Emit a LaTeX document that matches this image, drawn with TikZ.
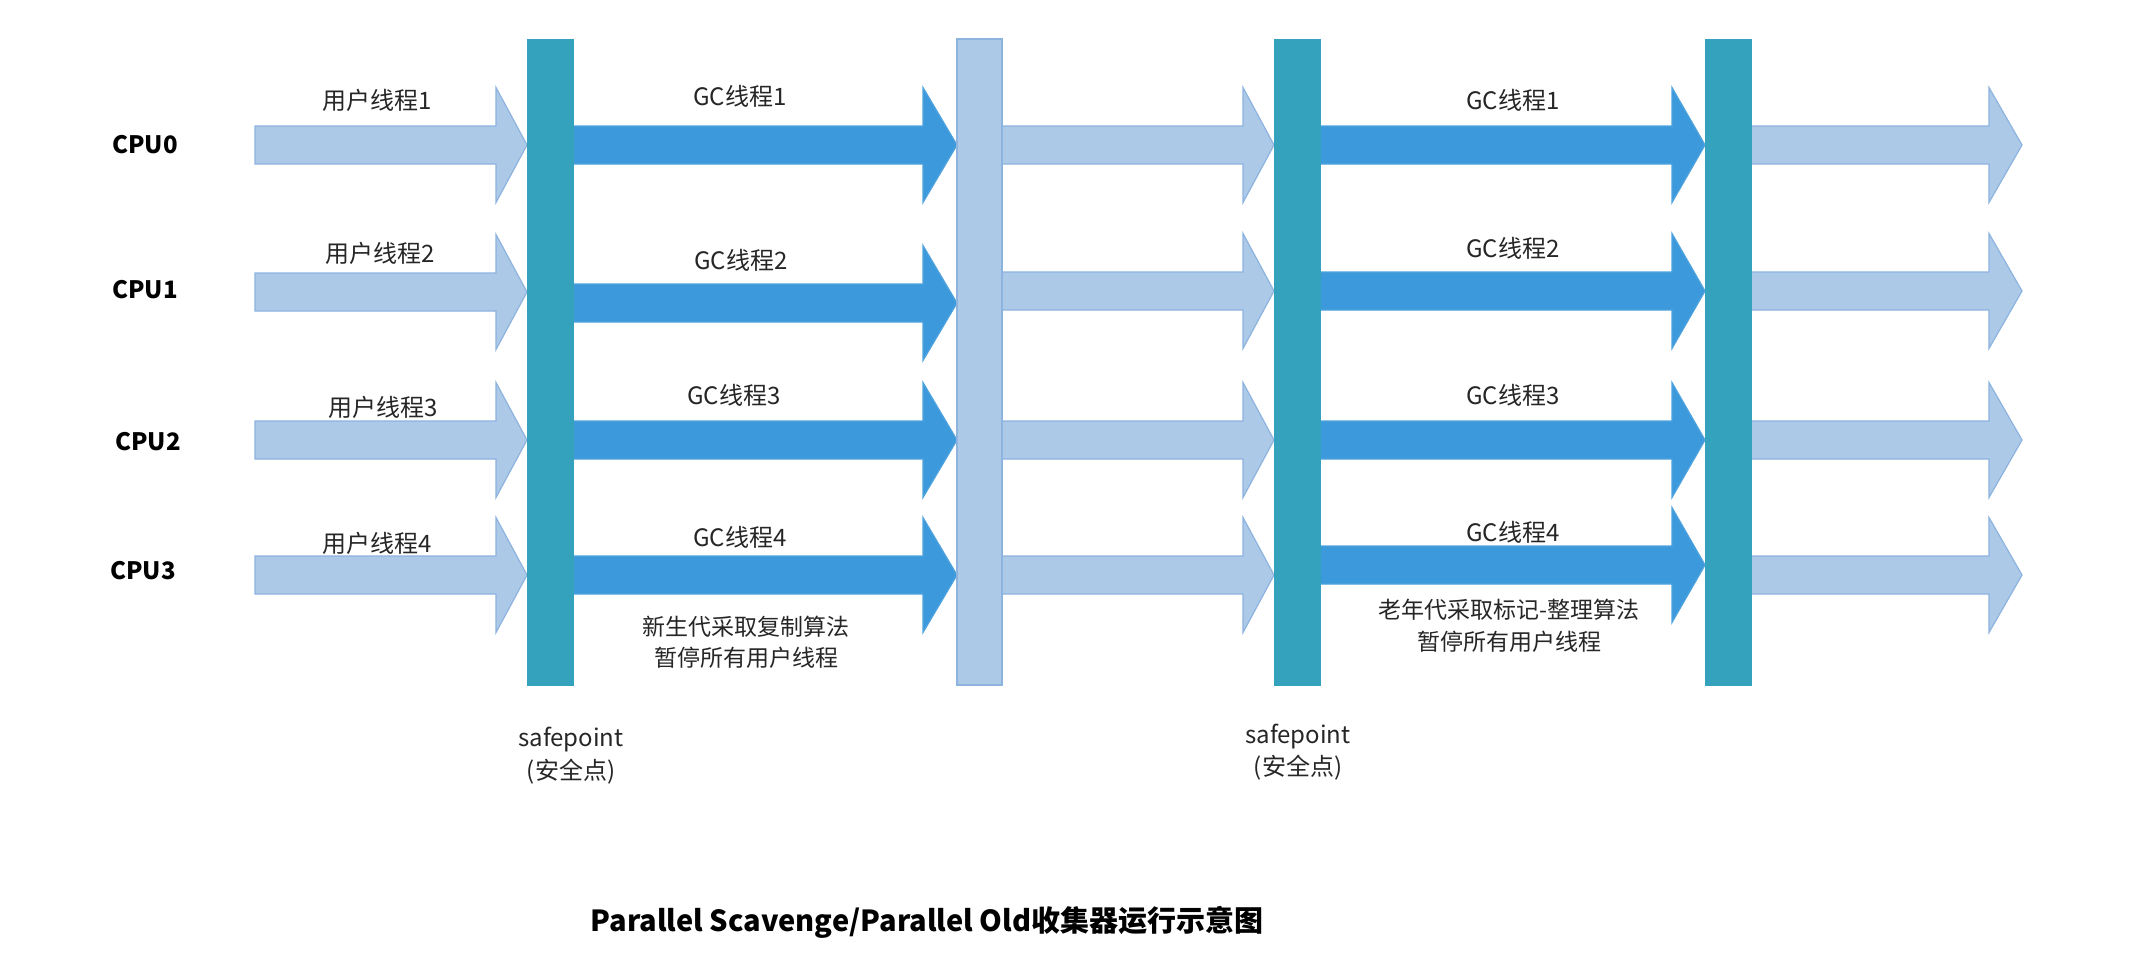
\documentclass[tikz,border=0pt]{standalone}
\usepackage{fontspec}
\setmainfont{Noto Sans CJK SC}
\begin{document}
\begin{tikzpicture}[x=0.5pt,y=-0.5pt,
  lightarrow/.style={fill=lightfill,draw=lightedge,line width=0.6pt,line join=miter},
  gcarrow/.style={fill=gcblue,draw=gcedge,line width=0.6pt,line join=miter},
  tealbar/.style={fill=teal2,draw=teal2,line width=0.4pt},
  lightbar/.style={fill=lightfill,draw=lightedge,line width=0.6pt},
  lbl/.style={font=\fontsize{12}{14}\selectfont,inner sep=0pt,text=black!85},
  note/.style={font=\fontsize{11.5}{13}\selectfont,inner sep=0pt,text=black!85},
  cpu/.style={font=\fontsize{12}{14}\selectfont\bfseries,inner sep=0pt},
  title/.style={font=\fontsize{14.5}{17}\selectfont\bfseries,inner sep=0pt}]
\definecolor{lightfill}{HTML}{ADC9E8}
\definecolor{lightedge}{HTML}{8DB3DF}
\definecolor{gcblue}{HTML}{3C99DB}
\definecolor{gcedge}{HTML}{4FA3DE}
\definecolor{teal2}{HTML}{35A2BD}
\useasboundingbox (0,0) rectangle (2135,966);
\fill[white] (0,0) rectangle (2135,966);
\newcommand\blockarrow[5]{%
  \draw[#1] (#2,#5-19) -- (#3,#5-19) -- (#3,#5-57.5) -- (#4,#5) -- (#3,#5+57.5) -- (#3,#5+19) -- (#2,#5+19) -- cycle;}
% user arrows, segment 1
\blockarrow{lightarrow}{255}{496}{527}{145}
\blockarrow{lightarrow}{255}{496}{527}{292}
\blockarrow{lightarrow}{255}{496}{527}{440}
\blockarrow{lightarrow}{255}{496}{527}{575}
% GC arrows, segment 1
\blockarrow{gcarrow}{573}{923}{957}{145}
\blockarrow{gcarrow}{573}{923}{957}{303}
\blockarrow{gcarrow}{573}{923}{957}{440}
\blockarrow{gcarrow}{573}{923}{957}{575}
% user arrows, segment 2
\blockarrow{lightarrow}{1002}{1243}{1274}{145}
\blockarrow{lightarrow}{1002}{1243}{1274}{291}
\blockarrow{lightarrow}{1002}{1243}{1274}{440}
\blockarrow{lightarrow}{1002}{1243}{1274}{575}
% GC arrows, segment 2
\blockarrow{gcarrow}{1320}{1672}{1705}{145}
\blockarrow{gcarrow}{1320}{1672}{1705}{291}
\blockarrow{gcarrow}{1320}{1672}{1705}{440}
\blockarrow{gcarrow}{1320}{1672}{1705}{565}
% final user arrows
\blockarrow{lightarrow}{1751}{1989}{2022}{145}
\blockarrow{lightarrow}{1751}{1989}{2022}{291}
\blockarrow{lightarrow}{1751}{1989}{2022}{440}
\blockarrow{lightarrow}{1751}{1989}{2022}{575}
% bars
\draw[tealbar] (527,39) rectangle (573,685);
\draw[lightbar] (957,39) rectangle (1002,685);
\draw[tealbar] (1274,39) rectangle (1320,685);
\draw[tealbar] (1705,39) rectangle (1751,685);
% CPU labels
\node[cpu] (cpu0) at (145,145) {CPU0};
\node[cpu] (cpu1) at (145,290) {CPU1};
\node[cpu] (cpu2) at (148,442) {CPU2};
\node[cpu] (cpu3) at (143,571) {CPU3};
% user thread labels
\node[lbl] (u1) at (377,100) {用户线程1};
\node[lbl] (u2) at (380,253) {用户线程2};
\node[lbl] (u3) at (383,407) {用户线程3};
\node[lbl] (u4) at (377,543) {用户线程4};
% GC labels segment 1
\node[lbl] (ga1) at (740,96) {GC线程1};
\node[lbl] (ga2) at (741,260) {GC线程2};
\node[lbl] (ga3) at (734,395) {GC线程3};
\node[lbl] (ga4) at (740,537) {GC线程4};
% GC labels segment 2
\node[lbl] (gb1) at (1513,100) {GC线程1};
\node[lbl] (gb2) at (1513,248) {GC线程2};
\node[lbl] (gb3) at (1513,395) {GC线程3};
\node[lbl] (gb4) at (1513,532) {GC线程4};
% notes
\node[note] (n1a) at (746,627) {新生代采取复制算法};
\node[note] (n1b) at (746,658) {暂停所有用户线程};
\node[note] (n2a) at (1509,610) {老年代采取标记-整理算法};
\node[note] (n2b) at (1509,642) {暂停所有用户线程};
% safepoints
\node[lbl] (sp1a) at (571,740) {safepoint};
\node[lbl] (sp1b) at (571,772) {(安全点)};
\node[lbl] (sp2a) at (1298,737) {safepoint};
\node[lbl] (sp2b) at (1298,768) {(安全点)};
% title
\node[title] (ttl) at (927,922) {Parallel Scavenge/Parallel Old收集器运行示意图};
\end{tikzpicture}
\end{document}
